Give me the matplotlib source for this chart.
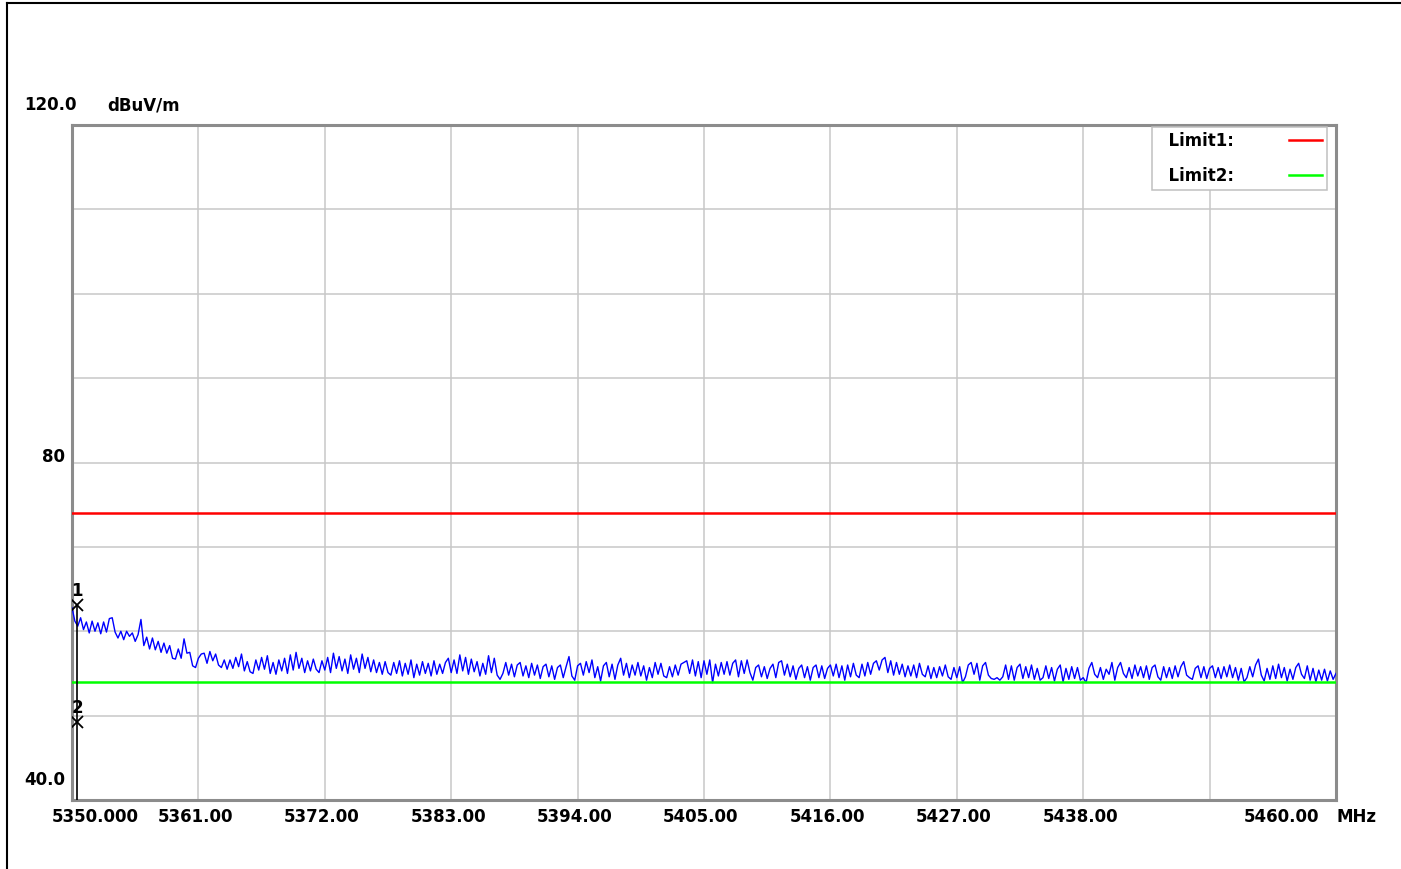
import numpy as np
import matplotlib.pyplot as plt
from matplotlib.lines import Line2D
import matplotlib.transforms as mtransforms

plt.rcParams['font.family'] = 'DejaVu Sans'
plt.rcParams['font.weight'] = 'bold'

# --- dados ---
f_start, f_stop = 5350.0, 5460.0

# nivel do traco (dBuV/m), passo de 0.25 MHz
level = [
    62.8, 61.2, 60.6, 61.6, 60.2, 61.1, 59.8, 61.2, 60.0, 61.0, 59.7, 61.1, 59.9, 61.5, 61.6,
    59.9, 59.2, 60.0, 59.0, 60.0, 59.4, 59.8, 58.8, 59.6, 61.4, 58.3, 59.3, 57.9, 59.2, 57.8,
    58.8, 57.5, 58.6, 57.4, 58.3, 56.8, 56.7, 57.9, 56.8, 59.1, 57.4, 57.5, 55.9, 55.7, 56.8,
    # 5361 - 5372
    57.3, 57.4, 56.2, 57.6, 56.5, 57.3, 56.0, 55.7, 56.6, 55.5, 56.6, 55.6, 56.9, 55.8, 57.3,
    55.3, 56.4, 55.2, 55.0, 56.6, 55.4, 56.9, 55.5, 57.1, 55.0, 56.3, 54.9, 56.6, 55.3, 56.8,
    55.0, 57.2, 55.4, 57.5, 55.6, 56.8, 55.1, 56.5, 55.3, 56.7, 55.5, 55.1, 56.5, 55.4,
    # 5372 - 5383
    56.9, 55.1, 57.4, 55.6, 57.0, 55.3, 56.7, 55.0, 57.2, 55.5, 56.8, 55.1, 57.3, 55.6, 56.9,
    55.2, 56.6, 55.1, 56.3, 54.9, 56.4, 55.1, 54.8, 56.3, 55.0, 56.5, 54.7, 56.2, 54.9, 56.6,
    54.5, 56.1, 54.8, 56.4, 55.0, 56.2, 54.7, 56.5, 54.9, 56.1, 55.0, 56.3, 56.8, 55.1,
    # 5383 - 5394
    56.6, 55.0, 57.2, 55.3, 56.9, 54.9, 56.7, 55.2, 56.4, 54.7, 56.2, 54.9, 57.1, 55.1, 56.8,
    54.8, 54.3, 55.0, 56.3, 54.8, 56.1, 54.6, 56.0, 56.3, 54.7, 55.9, 54.5, 56.2, 54.8, 56.0,
    54.4, 55.8, 56.1, 54.6, 55.9, 54.3, 55.7, 56.0, 54.5, 55.8, 57.0, 54.7, 54.2, 55.9,
    # 5394 - 5405
    56.2, 54.8, 56.4, 55.1, 56.6, 54.5, 55.8, 54.1, 55.9, 56.3, 54.6, 56.1, 54.3, 56.0, 56.8,
    54.8, 56.2, 54.5, 56.0, 54.8, 56.3, 54.7, 55.9, 54.2, 55.7, 54.5, 56.3, 54.9, 56.2, 54.7,
    54.5, 55.8, 54.6, 56.0, 54.8, 56.1, 56.3, 56.5, 55.0, 56.6, 54.7, 56.4, 54.5, 56.5,
    # 5405 - 5416
    54.9, 56.6, 53.9, 56.1, 54.7, 56.3, 54.9, 56.4, 54.8, 56.2, 56.6, 54.6, 56.5, 55.0, 56.6,
    55.1, 54.2, 55.7, 56.0, 54.6, 55.8, 54.4, 55.6, 56.1, 54.5, 56.3, 56.5, 54.8, 56.1, 54.6,
    55.9, 54.3, 55.6, 56.0, 54.5, 55.8, 54.2, 55.7, 56.0, 54.5, 55.9, 54.4, 55.6, 56.0,
    # 5416 - 5427
    54.7, 56.1, 54.5, 55.9, 54.2, 56.0, 54.6, 56.2, 54.8, 54.5, 56.1, 54.7, 56.3, 54.9, 56.2,
    56.5, 55.4, 56.6, 56.9, 55.1, 56.5, 54.8, 56.3, 54.9, 56.1, 54.6, 55.9, 54.7, 56.0, 54.5,
    56.2, 54.9, 54.6, 55.9, 54.4, 55.7, 54.5, 55.8, 54.7, 56.0, 54.6, 54.3, 55.7, 54.5,
    # 5427 - 5438
    55.8, 53.9, 54.6, 56.0, 56.3, 54.9, 56.2, 54.2, 55.9, 56.3, 54.8, 54.4, 54.3, 54.5, 54.2,
    54.6, 56.0, 54.3, 55.9, 54.2, 55.7, 56.1, 54.4, 55.8, 54.5, 56.0, 54.3, 55.6, 54.2, 54.5,
    55.9, 54.4, 55.7, 54.1, 55.5, 56.0, 54.0, 55.6, 54.3, 55.8, 54.4, 55.7, 54.2, 54.5,
    # 5438 - 5449
    53.9, 55.6, 56.3, 54.9, 54.5, 55.7, 54.3, 55.5, 54.9, 56.3, 54.2, 55.7, 56.3, 55.0, 54.5,
    55.7, 54.4, 56.0, 54.7, 55.8, 54.5, 55.9, 54.3, 55.7, 56.0, 54.6, 54.2, 55.8, 54.5, 55.7,
    54.4, 55.9, 54.6, 55.8, 56.4, 54.8, 54.5, 54.3, 55.6, 55.9, 54.5, 55.8, 54.4, 55.6,
    # 5449 - 5460
    55.9, 54.5, 55.7, 54.4, 55.8, 54.6, 56.0, 54.5, 55.7, 54.2, 55.6, 54.0, 54.5, 55.8, 54.6,
    56.0, 56.7, 54.8, 54.1, 55.6, 54.3, 55.9, 54.4, 56.1, 54.5, 55.7, 54.1, 55.5, 54.3, 55.7,
    56.2, 54.9, 54.4, 55.9, 54.2, 55.6, 54.0, 55.4, 54.2, 55.5, 54.1, 55.3, 54.3, 55.0,
]
freq = np.linspace(f_start, f_stop, len(level))

limit1 = 74.0
limit2 = 54.0

x_ticks = [5350, 5361, 5372, 5383, 5394, 5405, 5416, 5427, 5438, 5449, 5460]
x_labels = ['5350.000', '5361.00', '5372.00', '5383.00', '5394.00', '5405.00',
            '5416.00', '5427.00', '5438.00', '', '5460.00']
y_ticks = [40, 50, 60, 70, 80, 90, 100, 110, 120]
y_labels = {120: '120.0', 80: '80', 40: '40.0'}

marker_freq = [5350.43, 5350.43]
marker_level = [63.1, 49.2]
marker_names = ['1', '2']

# --- figura ---
W, H = 1401, 869
fig = plt.figure(figsize=(W / 100, H / 100), dpi=100)
ax = fig.add_axes([72 / W, 1 - 800 / H, (1336 - 72) / W, (800 - 125) / H])

ax.set_xlim(f_start, f_stop)
ax.set_ylim(40, 120)
ax.set_xticks(x_ticks)
ax.set_yticks(y_ticks)
ax.tick_params(length=0, labelleft=False, labelbottom=False)
ax.grid(True, color='#c8c8c8', lw=1.1)
ax.set_axisbelow(True)
for s in ax.spines.values():
    s.set_color('#8c8c8c')
    s.set_linewidth(2.2)

ax.plot(freq, level, color='#0000ff', lw=1.0, zorder=3)
ax.plot([f_start, f_stop], [limit1, limit1], color='#ff0000', lw=1.8, zorder=4)
ax.plot([f_start, f_stop], [limit2, limit2], color='#00ff00', lw=1.8, zorder=4)

# marcadores
ax.vlines(marker_freq[0], 40, marker_level[0], color='black', lw=1.2, zorder=5)
ax.plot(marker_freq, marker_level, ls='none', marker='x', color='black',
        ms=9, mew=1.3, zorder=6)
for mf, ml, name in zip(marker_freq, marker_level, marker_names):
    ax.annotate(name, (mf, ml), xytext=(0, 5), textcoords='offset pixels',
                ha='center', va='bottom', fontsize=12, zorder=6)

# rotulos dos eixos
bx = mtransforms.blended_transform_factory(ax.transData, ax.transAxes)
for i, (x, lab) in enumerate(zip(x_ticks, x_labels)):
    if i == 0:
        ha, dx = 'left', -20
    elif i == len(x_ticks) - 1:
        ha, dx = 'right', -17
    else:
        ha, dx = 'center', -3
    ax.annotate(lab, (x, 0), xycoords=bx, xytext=(dx, -8), textcoords='offset pixels',
                ha=ha, va='top', fontsize=12)
ax.annotate('MHz', (1, 0), xycoords='axes fraction', xytext=(1, -8),
            textcoords='offset pixels', ha='left', va='top', fontsize=12)

by = mtransforms.blended_transform_factory(ax.transAxes, ax.transData)
for y, lab in y_labels.items():
    if y == 80:
        ax.annotate(lab, (0, y), xycoords=by, xytext=(-7, 6), textcoords='offset pixels',
                    ha='right', va='center', fontsize=12)
    else:
        ax.annotate(lab, (0, y), xycoords=by, xytext=(-48, 20), textcoords='offset pixels',
                    ha='left', va='center', fontsize=12)
ax.annotate('dBuV/m', (0, 120), xycoords=by, xytext=(35, 20), textcoords='offset pixels',
            ha='left', va='center', fontsize=12)

# legenda
h1 = Line2D([], [], color='#ff0000', lw=1.8)
h2 = Line2D([], [], color='#00ff00', lw=1.8)
leg = ax.legend([h1, h2], ['  Limit1:', '  Limit2:'], loc='upper right',
                bbox_to_anchor=((1327 - 72) / 1264, 1 - 2 / 675), borderaxespad=0,
                markerfirst=False, fancybox=False, edgecolor='#c0c0c0', framealpha=1,
                handlelength=2.0, handletextpad=3.3, labelspacing=1.0, borderpad=0.3,
                prop={'weight': 'bold', 'size': 12})
leg.get_frame().set_linewidth(1.1)
leg.set_zorder(10)

# moldura externa
fig.add_artist(Line2D([7 / W, 7 / W], [0, 1 - 3 / H], color='black', lw=1.5))
fig.add_artist(Line2D([7 / W, 1], [1 - 3 / H, 1 - 3 / H], color='black', lw=1.5))

fig.savefig('out.png', dpi=100)
